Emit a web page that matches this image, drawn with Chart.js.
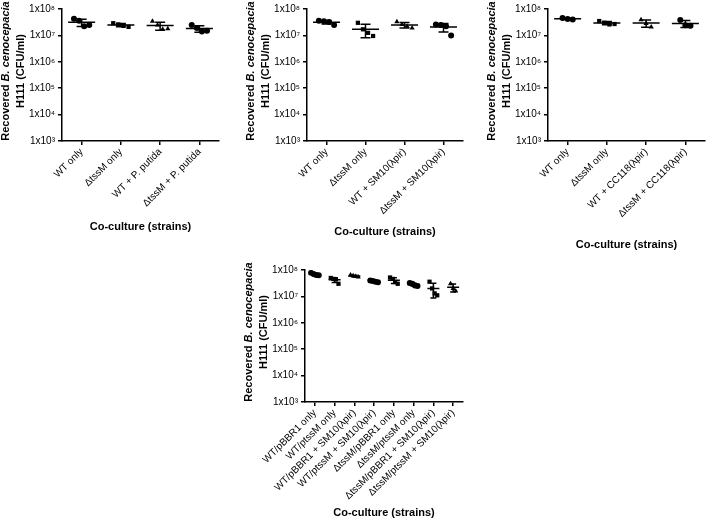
<!DOCTYPE html>
<html>
<head>
<meta charset="utf-8">
<script src="https://cdn.jsdelivr.net/npm/chart.js@4.4.1/dist/chart.umd.min.js"></script>
<style>
html, body { margin: 0; padding: 0; background: #fff; overflow: hidden; width: 709px; height: 520px; }
canvas { position: absolute; }
</style>
</head>
<body>
<canvas id="panel1" width="223" height="234" style="left:0px;top:0px"></canvas>
<canvas id="panel2" width="222" height="239" style="left:245px;top:0px"></canvas>
<canvas id="panel3" width="223" height="252" style="left:486px;top:0px"></canvas>
<canvas id="panel4" width="224" height="259" style="left:243px;top:261px"></canvas>
<script>
// log axis, decades only
var yTicks = [1e3, 1e4, 1e5, 1e6, 1e7, 1e8];
var supDigits = { 3: '³', 4: '⁴', 5: '⁵', 6: '⁶', 7: '⁷', 8: '⁸' };

// panel 1 - P. putida
var catsPutida = ['WT only', 'ΔtssM only', 'WT + P. putida', 'ΔtssM + P. putida'];
var valsPutida = [
    [4.3e7, 3.6e7, 2.2e7, 2.5e7],
    [2.9e7, 2.6e7, 2.3e7, 2.1e7],
    [3.4e7, 2.5e7, 1.7e7, 1.8e7],
    [2.5e7, 1.9e7, 1.4e7, 1.5e7]
];

// panel 2 - SM10(λpir)
var catsSM10 = ['WT only', 'ΔtssM only', 'WT + SM10(λpir)', 'ΔtssM + SM10(λpir)'];
var valsSM10 = [
    [3.6e7, 3.4e7, 3.2e7, 2.5e7],
    [3.0e7, 1.7e7, 1.25e7, 0.95e7],
    [3.3e7, 2.6e7, 2.2e7, 1.9e7],
    [2.6e7, 2.5e7, 2.2e7, 1.0e7]
];

// panel 3 - CC118(λpir)
var catsCC118 = ['WT only', 'ΔtssM only', 'WT + CC118(λpir)', 'ΔtssM + CC118(λpir)'];
var valsCC118 = [
    [4.6e7, 4.2e7, 4.0e7],
    [3.5e7, 3.0e7, 2.6e7, 2.7e7],
    [3.9e7, 2.8e7, 2.1e7],
    [3.8e7, 2.4e7, 2.3e7]
];

// panel 4 - complementation
var catsComp = [
    'WT/pBBR1 only',
    'WT/ptssM only',
    'WT/pBBR1 + SM10(λpir)',
    'WT/ptssM + SM10(λpir)',
    'ΔtssM/pBBR1 only',
    'ΔtssM/ptssM only',
    'ΔtssM/pBBR1 + SM10(λpir)',
    'ΔtssM/ptssM + SM10(λpir)'
];
var valsComp = [
    [7.8e7, 7.0e7, 6.5e7, 6.3e7],
    [5.0e7, 4.6e7, 4.4e7, 3.0e7],
    [6.5e7, 6.0e7, 5.7e7, 5.4e7],
    [4.0e7, 3.8e7, 3.6e7, 3.4e7],
    [5.2e7, 4.6e7, 3.5e7, 3.0e7],
    [3.2e7, 3.0e7, 2.6e7, 2.5e7],
    [3.6e7, 2.0e7, 1.3e7, 1.1e7],
    [3.0e7, 2.0e7, 1.6e7]
];

Chart.defaults.font.family = "'Liberation Sans', Arial, sans-serif";
Chart.defaults.color = '#000';

function mean(arr) {
    return arr.reduce(function(a, b) { return a + b; }, 0) / arr.length;
}
function sd(arr) {
    var m = mean(arr);
    var s = arr.reduce(function(a, b) { return a + (b - m) * (b - m); }, 0);
    return Math.sqrt(s / (arr.length - 1));
}

// mean line + SD whiskers, drawn on top of the points
function meanSdPlugin(vals, meanW, capW) {
    return {
        id: 'meanSd',
        afterDatasetsDraw: function(chart) {
            var c = chart.ctx, xs = chart.scales.x, ys = chart.scales.y;
            c.save();
            c.strokeStyle = '#000';
            c.lineWidth = 1.5;
            vals.forEach(function(v, g) {
                var m = mean(v), s = sd(v);
                var px = xs.getPixelForValue(g);
                var pm = ys.getPixelForValue(m);
                var pt = ys.getPixelForValue(m + s);
                var pb = ys.getPixelForValue(Math.max(m - s, 1e3));
                c.beginPath();
                c.moveTo(px - meanW / 2, pm); c.lineTo(px + meanW / 2, pm);
                c.moveTo(px, pt); c.lineTo(px, pb);
                c.moveTo(px - capW / 2, pt); c.lineTo(px + capW / 2, pt);
                c.moveTo(px - capW / 2, pb); c.lineTo(px + capW / 2, pb);
                c.stroke();
            });
            c.restore();
        }
    };
}

// two-line y title with italic species name
var yTitlePlugin = {
    id: 'yTitle',
    afterDraw: function(chart) {
        var c = chart.ctx, a = chart.chartArea;
        var cy = (a.top + a.bottom) / 2 - 4;
        var bold = "bold 11px 'Liberation Sans', Arial, sans-serif";
        var boldIt = "italic bold 11px 'Liberation Sans', Arial, sans-serif";
        var parts = [['Recovered ', bold], ['B. cenocepacia', boldIt]];
        c.save();
        c.fillStyle = '#000';
        c.textBaseline = 'middle';
        c.translate(a.left - 56, cy);
        c.rotate(-Math.PI / 2);
        var w = 0;
        parts.forEach(function(p) { c.font = p[1]; w += c.measureText(p[0]).width; });
        var x = -w / 2;
        c.textAlign = 'left';
        parts.forEach(function(p) {
            c.font = p[1];
            c.fillText(p[0], x, 0);
            x += c.measureText(p[0]).width;
        });
        c.font = bold;
        c.textAlign = 'center';
        c.fillText('H111 (CFU/ml)', 0, 15);
        c.restore();
    }
};

function spread(i, n) {
    return (i - (n - 1) / 2) * 0.13;
}

function makePanel(id, cats, vals, shapes, meanW, capW) {
    var canvas = document.getElementById(id);
    var xH = canvas.height - 141;
    var datasets = vals.map(function(v, g) {
        return {
            data: v.map(function(y, i) { return { x: g + spread(i, v.length), y: y }; }),
            pointStyle: shapes[g],
            pointRadius: 3,
            backgroundColor: '#000',
            borderColor: '#000',
            borderWidth: 0
        };
    });
    return new Chart(canvas, {
        type: 'scatter',
        data: { datasets: datasets },
        options: {
            responsive: false,
            animation: false,
            devicePixelRatio: 1,
            layout: { padding: { top: 6, right: 4, left: 0, bottom: 0 } },
            plugins: { legend: { display: false }, tooltip: { enabled: false } },
            scales: {
                x: {
                    type: 'linear',
                    min: -0.5,
                    max: cats.length - 0.5,
                    afterBuildTicks: function(s) {
                        s.ticks = cats.map(function(c, i) { return { value: i }; });
                    },
                    afterFit: function(s) { s.height = xH; },
                    ticks: {
                        autoSkip: false,
                        maxRotation: 45,
                        minRotation: 45,
                        padding: 1,
                        font: { size: 10 },
                        callback: function(v) { return cats[v]; }
                    },
                    grid: { drawOnChartArea: false, drawTicks: true, tickLength: 4, color: '#000', lineWidth: 1.5 },
                    border: { display: true, color: '#000', width: 1.5 },
                    title: {
                        display: true,
                        text: 'Co-culture (strains)',
                        font: { size: 11, weight: 'bold' },
                        padding: { top: 4, bottom: 0 }
                    }
                },
                y: {
                    type: 'logarithmic',
                    min: 1e3,
                    max: 1e8,
                    afterBuildTicks: function(s) {
                        s.ticks = yTicks.map(function(v) { return { value: v, major: true }; });
                    },
                    afterFit: function(s) { s.width = 62; },
                    ticks: {
                        font: { size: 10 },
                        padding: 3,
                        callback: function(v) {
                            return '1x10' + supDigits[Math.round(Math.log10(v))];
                        }
                    },
                    grid: { drawOnChartArea: false, drawTicks: true, tickLength: 4, color: '#000', lineWidth: 1.5 },
                    border: { display: true, color: '#000', width: 1.5 }
                }
            }
        },
        plugins: [meanSdPlugin(vals, meanW, capW), yTitlePlugin]
    });
}

makePanel('panel1', catsPutida, valsPutida, ['circle', 'rect', 'triangle', 'circle'], 27, 10);
makePanel('panel2', catsSM10, valsSM10, ['circle', 'rect', 'triangle', 'circle'], 27, 10);
makePanel('panel3', catsCC118, valsCC118, ['circle', 'rect', 'triangle', 'circle'], 27, 10);
makePanel('panel4', catsComp, valsComp, ['circle', 'rect', 'triangle', 'circle', 'rect', 'circle', 'rect', 'triangle'], 12, 6);
</script>
</body>
</html>
